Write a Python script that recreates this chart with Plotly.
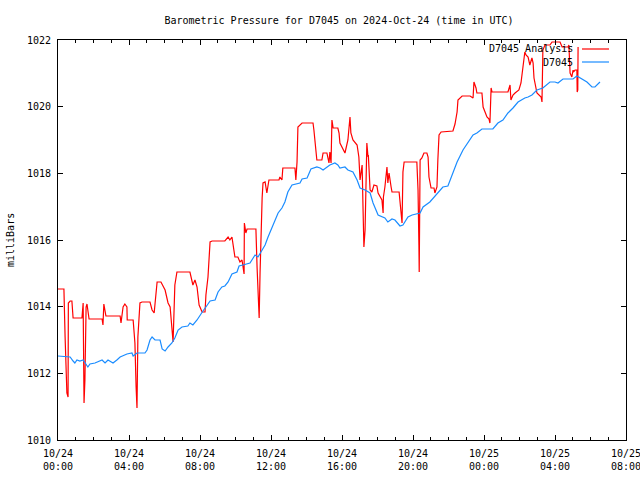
import pandas as pd
import plotly.graph_objects as go

# ---- data (minutes after 2024-10-24 00:00 UTC, pressure in mb) ----
base_day = "2024-10-24 00:00"

station_name = "D7045"
analysis_name = "D7045 Analysis"

station_min = [0, 27, 41, 51, 57, 64, 74, 85, 98, 101, 108, 125, 149, 159, 169, 186, 199, 210,
               233, 250, 254, 267, 294, 301, 311, 318, 328, 345, 352, 362, 372, 385, 395, 406,
               419, 439, 446, 456, 470, 480, 490, 500, 514, 531, 541, 554, 564, 575, 588, 605,
               612, 625, 649, 666, 676, 690, 700, 710, 723, 733, 744, 757, 767, 777, 791, 818,
               825, 842, 855, 875, 886, 896, 909, 919, 936, 946, 953, 970, 980, 997, 1011, 1021,
               1038, 1055, 1065, 1082, 1105, 1115, 1129, 1139, 1156, 1166, 1183, 1197, 1224,
               1234, 1257, 1274, 1291, 1301, 1318, 1335, 1349, 1369, 1386, 1403, 1416, 1433,
               1470, 1487, 1504, 1521, 1538, 1555, 1578, 1589, 1602, 1619, 1639, 1663, 1680,
               1690, 1707, 1741, 1754, 1764, 1788, 1805, 1815, 1832]
station_mb = [1012.52, 1012.49, 1012.49, 1012.37, 1012.31, 1012.40, 1012.37, 1012.40, 1012.25,
              1012.19, 1012.28, 1012.31, 1012.40, 1012.31, 1012.40, 1012.31, 1012.40, 1012.49,
              1012.58, 1012.61, 1012.52, 1012.61, 1012.61, 1012.70, 1013.00, 1013.09, 1013.00,
              1013.00, 1012.73, 1012.67, 1012.79, 1012.91, 1013.06, 1013.30, 1013.39, 1013.42,
              1013.51, 1013.45, 1013.60, 1013.75, 1013.87, 1013.99, 1014.17, 1014.20, 1014.44,
              1014.59, 1014.62, 1014.74, 1014.98, 1015.04, 1015.22, 1015.25, 1015.31, 1015.55,
              1015.49, 1015.70, 1015.85, 1016.09, 1016.36, 1016.54, 1016.81, 1016.96, 1017.14,
              1017.44, 1017.65, 1017.71, 1017.83, 1017.86, 1018.13, 1018.19, 1018.16, 1018.10,
              1018.19, 1018.25, 1018.31, 1018.25, 1018.16, 1018.19, 1018.10, 1018.04, 1017.80,
              1017.56, 1017.50, 1017.41, 1017.11, 1016.75, 1016.66, 1016.54, 1016.63, 1016.60,
              1016.42, 1016.45, 1016.69, 1016.75, 1016.81, 1016.99, 1017.14, 1017.32, 1017.50,
              1017.59, 1017.62, 1018.04, 1018.34, 1018.70, 1018.94, 1019.15, 1019.21, 1019.33,
              1019.33, 1019.51, 1019.60, 1019.81, 1019.96, 1020.14, 1020.26, 1020.29, 1020.35,
              1020.50, 1020.56, 1020.74, 1020.74, 1020.71, 1020.83, 1020.83, 1020.92, 1020.86,
              1020.74, 1020.59, 1020.59, 1020.74]

analysis_min = [0, 20, 24, 30, 34, 35, 41, 47, 51, 81, 85, 88, 91, 95, 98, 105, 149, 152, 155,
                159, 162, 210, 213, 220, 226, 233, 234, 254, 260, 264, 267, 270, 277, 284, 311,
                318, 325, 335, 348, 362, 372, 379, 385, 389, 395, 402, 446, 453, 456, 463, 470,
                477, 487, 497, 500, 507, 514, 521, 564, 575, 581, 588, 592, 595, 598, 608, 615,
                622, 625, 629, 630, 635, 639, 669, 673, 679, 680, 683, 686, 690, 693, 700, 706,
                710, 713, 747, 750, 757, 760, 801, 804, 808, 809, 811, 825, 862, 865, 872, 875,
                892, 896, 909, 913, 916, 919, 923, 926, 930, 946, 950, 953, 960, 963, 970, 980,
                987, 990, 997, 1011, 1017, 1021, 1028, 1031, 1034, 1038, 1044, 1048, 1049, 1055,
                1061, 1068, 1078, 1082, 1088, 1095, 1099, 1100, 1105, 1109, 1112, 1115, 1119,
                1126, 1129, 1153, 1156, 1159, 1163, 1166, 1170, 1213, 1217, 1220, 1221, 1224,
                1230, 1237, 1247, 1251, 1254, 1261, 1271, 1274, 1281, 1284, 1288, 1295, 1335,
                1342, 1349, 1352, 1366, 1393, 1403, 1406, 1413, 1416, 1433, 1437, 1450, 1457,
                1460, 1464, 1467, 1521, 1528, 1531, 1538, 1545, 1558, 1565, 1572, 1578, 1582,
                1589, 1595, 1602, 1606, 1609, 1619, 1633, 1636, 1637, 1639, 1646, 1663, 1670,
                1697, 1704, 1724, 1727, 1731, 1737, 1741, 1742, 1748, 1754, 1755, 1757, 1758]
analysis_mb = [1014.53, 1014.53, 1013.09, 1011.41, 1011.29, 1014.11, 1014.17, 1014.17, 1013.66,
               1013.66, 1014.11, 1011.11, 1011.80, 1013.99, 1014.08, 1013.63, 1013.63, 1013.45,
               1014.08, 1013.81, 1013.72, 1013.72, 1013.51, 1013.99, 1014.08, 1013.99, 1013.60,
               1013.60, 1012.91, 1011.59, 1010.96, 1013.09, 1014.11, 1014.14, 1014.14, 1013.90,
               1013.81, 1014.74, 1014.74, 1014.50, 1014.11, 1013.99, 1013.30, 1012.94, 1014.65,
               1015.04, 1015.04, 1014.80, 1014.65, 1014.80, 1014.59, 1014.05, 1013.84, 1013.84,
               1014.35, 1014.89, 1015.94, 1015.97, 1015.97, 1016.09, 1016.00, 1016.09, 1015.85,
               1015.61, 1015.49, 1015.49, 1015.34, 1015.40, 1015.19, 1014.98, 1016.51, 1016.21,
               1016.33, 1016.33, 1015.16, 1013.81, 1013.66, 1015.01, 1016.51, 1017.26, 1017.71,
               1017.74, 1017.41, 1017.71, 1017.80, 1017.80, 1017.89, 1017.80, 1018.16, 1018.16,
               1017.80, 1018.34, 1019.24, 1019.39, 1019.51, 1019.51, 1019.30, 1018.79, 1018.40,
               1018.40, 1018.61, 1018.61, 1018.40, 1018.31, 1018.64, 1018.31, 1019.60, 1019.36,
               1019.36, 1019.21, 1018.91, 1018.79, 1018.70, 1018.61, 1019.00, 1019.69, 1019.21,
               1019.00, 1018.85, 1018.49, 1017.80, 1018.25, 1016.99, 1015.79, 1016.30, 1018.91,
               1018.49, 1018.55, 1017.50, 1017.44, 1017.65, 1017.62, 1017.41, 1017.29, 1017.20,
               1016.81, 1017.29, 1017.59, 1017.95, 1018.19, 1017.71, 1018.01, 1017.59, 1017.44,
               1017.44, 1017.20, 1016.81, 1016.51, 1018.04, 1018.34, 1018.34, 1017.50, 1015.85,
               1015.04, 1018.40, 1018.46, 1018.61, 1018.61, 1018.49, 1017.89, 1017.56, 1017.56,
               1017.41, 1017.59, 1018.40, 1019.15, 1019.24, 1019.27, 1019.48, 1019.84, 1020.20,
               1020.32, 1020.32, 1020.26, 1020.74, 1020.56, 1020.41, 1020.41, 1019.99, 1019.69,
               1019.63, 1019.51, 1020.56, 1020.44, 1020.44, 1020.65, 1020.20, 1020.35, 1020.41,
               1020.50, 1020.71, 1021.31, 1021.64, 1021.55, 1021.49, 1021.25, 1021.46, 1021.31,
               1020.86, 1020.41, 1020.29, 1020.14, 1020.80, 1021.70, 1021.85, 1021.85, 1021.94,
               1021.94, 1021.79, 1021.79, 1021.85, 1021.01, 1020.89, 1021.10, 1021.04, 1021.10,
               1021.10, 1020.44, 1020.50, 1021.79, 1020.44]

y_range = [1010, 1022]
y_ticks = [1010, 1012, 1014, 1016, 1018, 1020, 1022]
x_range = ["2024-10-24 00:00", "2024-10-25 08:00"]

title_text = "Barometric Pressure for D7045 on 2024-Oct-24 (time in UTC)"
y_title = "milliBars"

# ---- build ----
t0 = pd.Timestamp(base_day)
station_t = t0 + pd.to_timedelta(station_min, unit="m")
analysis_t = t0 + pd.to_timedelta(analysis_min, unit="m")

red = "#ff0000"
blue = "#1a8cff"
font_mono = "DejaVu Sans Mono"

fig = go.Figure()
fig.add_trace(go.Scatter(x=analysis_t, y=analysis_mb, mode="lines", name=analysis_name,
                         line=dict(color=red, width=1.2), showlegend=False))
fig.add_trace(go.Scatter(x=station_t, y=station_mb, mode="lines", name=station_name,
                         line=dict(color=blue, width=1.2), showlegend=False))

W, H = 640, 480
PL, PR, PT, PB = 58, 626, 40, 440          # plot box in pixels
L, R, T, B = PL, W - PR, PT, H - PB
pw, ph = PR - PL, PB - PT


def px_x(x):
    return (x - PL) / pw


def px_y(y):
    return (PB - y) / ph


fig.update_layout(
    width=W, height=H,
    margin=dict(l=L, r=R, t=T, b=B, autoexpand=False),
    paper_bgcolor="white", plot_bgcolor="white",
    font=dict(family=font_mono, size=10, color="black"),
    title=dict(text=title_text, x=px_x(339), xref="paper", xanchor="center",
               y=1 - 20 / H, yref="container", yanchor="middle",
               font=dict(family=font_mono, size=10, color="black"), automargin=False),
    xaxis=dict(type="date", range=x_range, showgrid=False, zeroline=False,
               showline=True, linecolor="black", linewidth=1, mirror="allticks",
               ticks="inside", ticklen=5, tickcolor="black",
               dtick=4 * 3600 * 1000, tick0="2024-10-24 00:00",
               tickformat="%m/%d<br>%H:%M", automargin=False,
               ticklabeloverflow="allow",
               minor=dict(dtick=3600 * 1000, ticks="inside", ticklen=3, tickcolor="black"),
               ticklabelstandoff=4),
    yaxis=dict(range=y_range, showgrid=False, zeroline=False,
               showline=True, linecolor="black", linewidth=1, mirror="allticks",
               ticks="inside", ticklen=5, tickcolor="black", automargin=False,
               tickvals=y_ticks, ticktext=[str(v) for v in y_ticks],
               ticklabelstandoff=4),
)

# y-axis title
fig.add_annotation(text=y_title, textangle=-90, xref="paper", yref="paper",
                   x=px_x(10), y=px_y(240), showarrow=False,
                   xanchor="center", yanchor="middle",
                   font=dict(family=font_mono, size=10, color="black"))

# legend (text right-aligned, sample line on the right, gnuplot style)
for label, color, ypix in [(analysis_name, red, 49), (station_name, blue, 62)]:
    fig.add_annotation(text=label, xref="paper", yref="paper", x=px_x(575), y=px_y(ypix),
                       xanchor="right", yanchor="middle", showarrow=False,
                       font=dict(family=font_mono, size=10, color="black"))
    fig.add_shape(type="line", xref="paper", yref="paper",
                  x0=px_x(582), x1=px_x(609), y0=px_y(ypix), y1=px_y(ypix),
                  line=dict(color=color, width=1.2))

fig.write_html("out.html",
               config={"displayModeBar": False, "staticPlot": True},
               post_script="document.body.style.margin='0';document.body.style.overflow='hidden';")
